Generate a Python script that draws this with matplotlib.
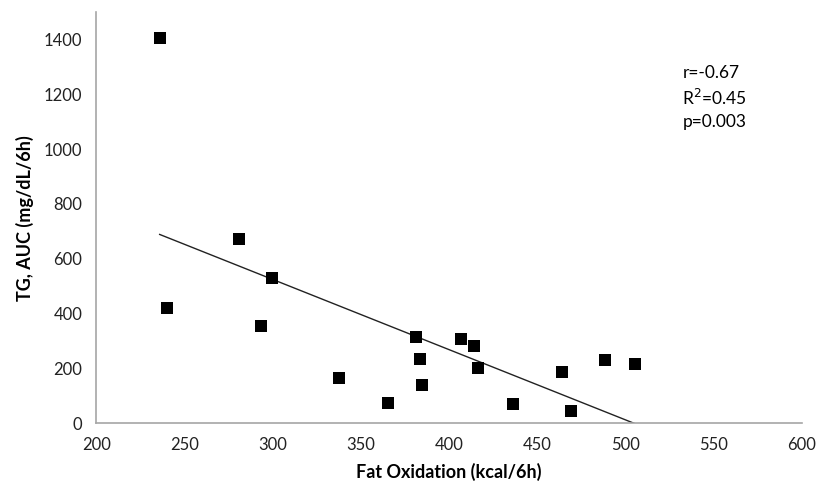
import numpy as np
import matplotlib
matplotlib.use("Agg")
import matplotlib.pyplot as plt

plt.rcParams['font.family'] = ['Lato', 'DejaVu Sans']

fat_oxidation = [236, 240, 281, 299.5, 293.5, 337.5, 365.5, 381.5, 383.5, 384.5,
                 407, 414, 416.5, 436.5, 464, 469.5, 488.5, 505.5]
tg_auc = [1405, 420, 673, 530, 356, 166, 75, 313, 234, 139,
          308, 282, 200, 68, 185, 45, 230, 217]
x_ticks = [200, 250, 300, 350, 400, 450, 500, 550, 600]
y_ticks = [0, 200, 400, 600, 800, 1000, 1200, 1400]
stats_text = "r=-0.67\nR$^2$=0.45\np=0.003"

fig = plt.figure(figsize=(8.29, 4.88), dpi=100)
ax = fig.add_axes([0.116, 0.133, 0.851, 0.842])

x = np.array(fat_oxidation)
y = np.array(tg_auc)
ax.scatter(x, y, marker='s', s=75, color='black', zorder=3, linewidths=0)

slope, intercept = np.polyfit(x, y, 1)
xl = np.array([x.min(), x.max()])
ax.plot(xl, slope * xl + intercept, color='#222222', lw=1.0, zorder=2)

ax.set_xlim(200, 600)
ax.set_ylim(0, 1500)
ax.set_xticks(x_ticks)
ax.set_yticks(y_ticks)
ax.tick_params(length=0, labelsize=12, colors='#222222', pad=10)
for s in ['top', 'right']:
    ax.spines[s].set_visible(False)
for s in ['left', 'bottom']:
    ax.spines[s].set_color('#a6a6a6')
    ax.spines[s].set_linewidth(1.2)

ax.set_xlabel("Fat Oxidation (kcal/6h)", fontsize=13, fontweight='bold', labelpad=7)
ax.set_ylabel("TG, AUC (mg/dL/6h)", fontsize=13, fontweight='bold', labelpad=7)

ax.text(0.831, 0.872, stats_text, transform=ax.transAxes, fontsize=12.5,
        va='top', ha='left', linespacing=1.42)

fig.savefig("out.png", dpi=100)
